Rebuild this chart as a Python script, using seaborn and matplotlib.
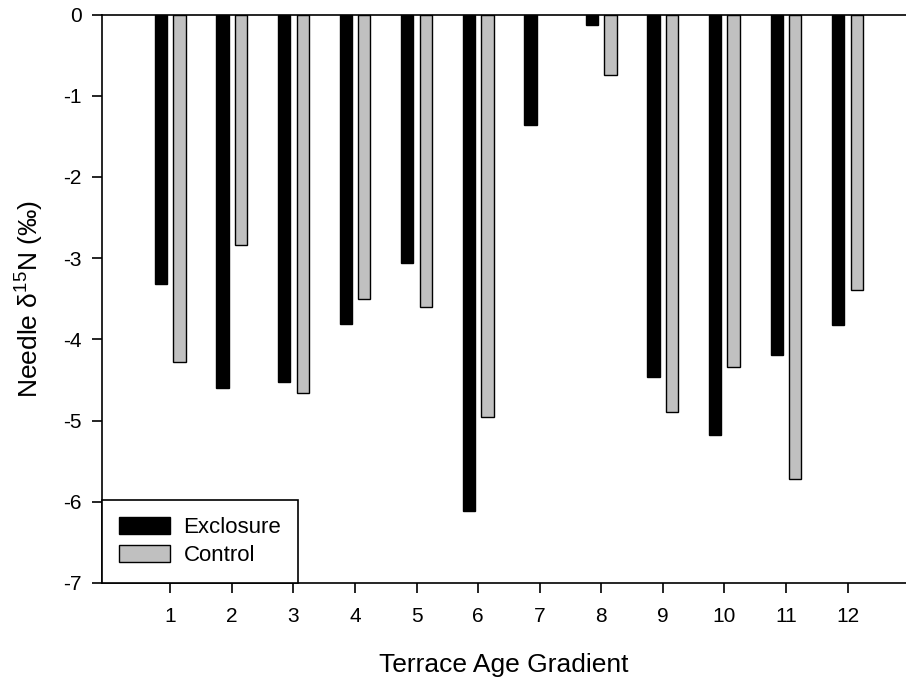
import numpy as np
import pandas as pd
import matplotlib
matplotlib.use("Agg")
import matplotlib.pyplot as plt
import seaborn as sns
from matplotlib.patches import Patch

# ---- data ----
gradient = ["1", "2", "3", "4", "5", "6", "7", "8", "9", "10", "11", "12"]
exclosure = [-3.32, -4.60, -4.53, -3.81, -3.06, -6.11, -1.36, -0.13, -4.46, -5.18, -4.19, -3.82]
control = [-4.28, -2.84, -4.66, -3.50, -3.60, -4.96, np.nan, -0.75, -4.90, -4.34, -5.72, -3.39]
series = ["Exclosure", "Control"]
colors = ["#000000", "#C0C0C0"]
yticks = [0, -1, -2, -3, -4, -5, -6, -7]

df = pd.DataFrame({
    "Gradient": gradient * 2,
    "Treatment": [series[0]] * len(gradient) + [series[1]] * len(gradient),
    "Value": exclosure + control,
})

sns.set_style("ticks")
plt.rcParams["font.family"] = ["Liberation Sans", "DejaVu Sans"]
plt.rcParams["axes.unicode_minus"] = False
plt.rcParams["mathtext.fontset"] = "custom"
plt.rcParams["mathtext.rm"] = "Liberation Sans"
plt.rcParams["mathtext.it"] = "Liberation Sans:italic"
plt.rcParams["text.color"] = "black"
plt.rcParams["axes.labelcolor"] = "black"

fig = plt.figure(figsize=(9.06, 6.82), dpi=100)
ax = fig.add_axes([0.1129, 0.1452, 0.8871, 0.8335])

sns.barplot(data=df, x="Gradient", y="Value", hue="Treatment",
            order=gradient, hue_order=series, palette=colors,
            width=0.6, gap=1/3, errorbar=None, edgecolor="black",
            linewidth=1.0, saturation=1, ax=ax, legend=False)

ax.set_ylim(-7, 0)
ax.set_xlim(-1.105, 11.95)
ax.set_yticks(yticks)
ax.set_yticklabels([str(t) for t in yticks])

for side in ["left", "bottom", "top"]:
    ax.spines[side].set_visible(True)
    ax.spines[side].set_color("black")
    ax.spines[side].set_linewidth(1.2)
ax.spines["right"].set_visible(False)

ax.tick_params(axis="both", direction="out", length=7, width=1.2, color="black",
               labelsize=15, labelcolor="black")
ax.tick_params(axis="x", pad=10)
ax.tick_params(axis="y", pad=8)

ax.set_xlabel("Terrace Age Gradient", fontsize=19, labelpad=20, color="black")
ax.set_ylabel("Needle \u03b4$^{15}$N (\u2030)", fontsize=19, labelpad=12, color="black")

handles = [Patch(facecolor=c, edgecolor="black", linewidth=1.0) for c in colors]
leg = ax.legend(handles, series, loc="lower left", bbox_to_anchor=(0, 0),
                borderaxespad=0, fontsize=16, frameon=True, fancybox=False,
                edgecolor="black", framealpha=1, handlelength=2.3,
                handleheight=0.8, handletextpad=0.6, labelspacing=0.32,
                borderpad=0.75)
leg.get_frame().set_linewidth(1.2)
for t in leg.get_texts():
    t.set_color("black")

fig.savefig("out.png", dpi=100)
